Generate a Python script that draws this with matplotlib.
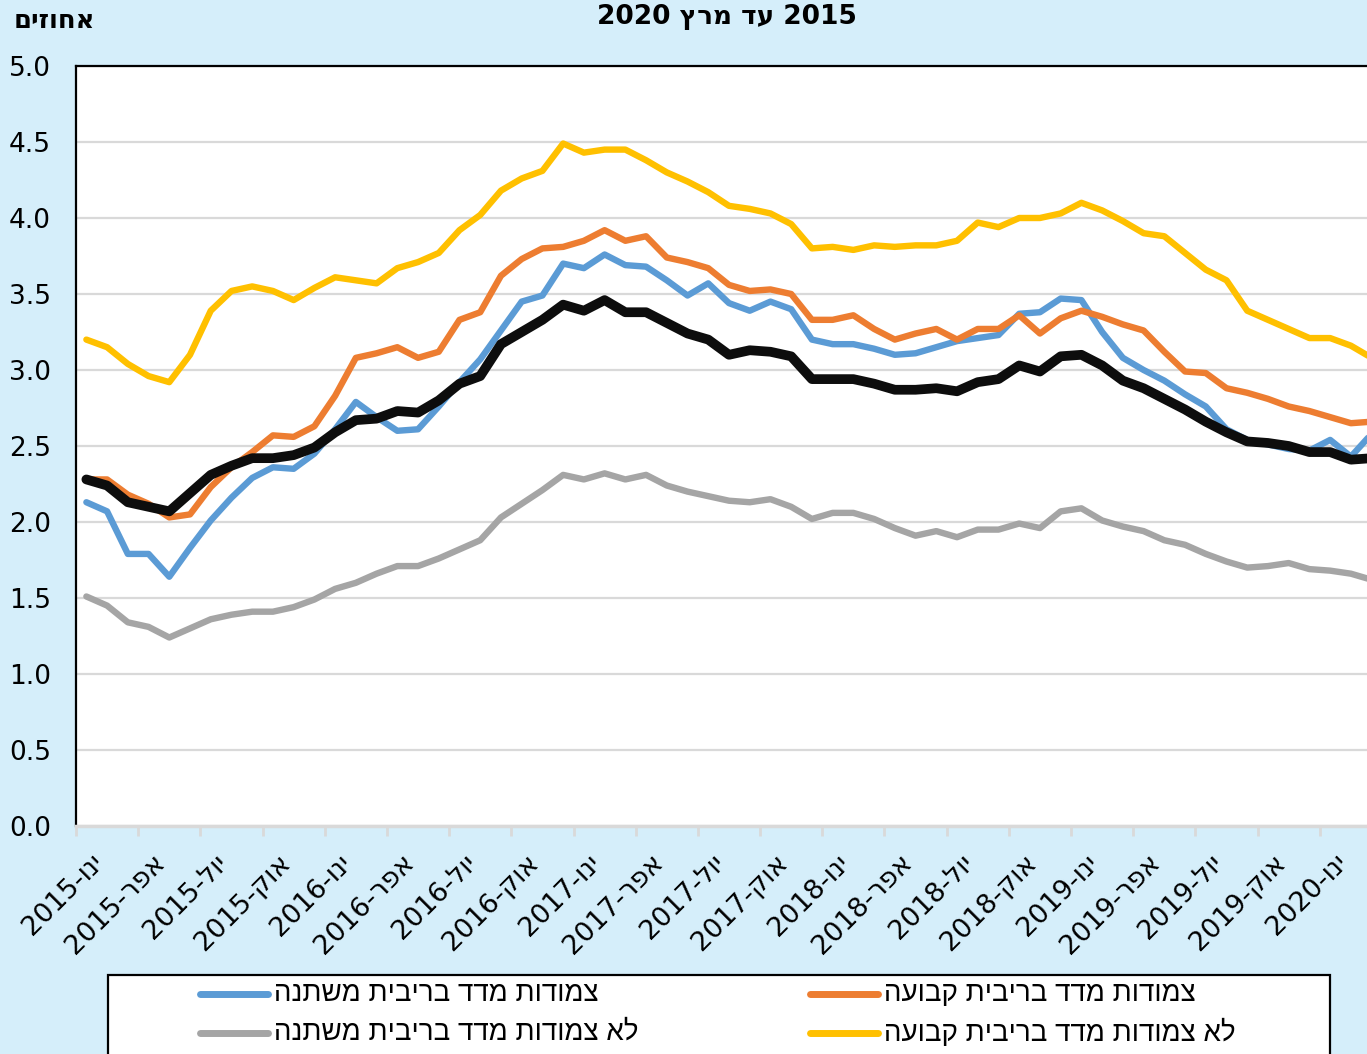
import re

import numpy as np
import matplotlib
matplotlib.use("Agg")
import matplotlib.pyplot as plt
from matplotlib.lines import Line2D
from matplotlib.patches import Rectangle
from matplotlib.transforms import ScaledTranslation

# ---------------------------------------------------------------------------
# Data (monthly, Jan 2015 - Mar 2020), percent
# ---------------------------------------------------------------------------

tick_labels = [
    "ינו-2015", "אפר-2015", "יול-2015", "אוק-2015",
    "ינו-2016", "אפר-2016", "יול-2016", "אוק-2016",
    "ינו-2017", "אפר-2017", "יול-2017", "אוק-2017",
    "ינו-2018", "אפר-2018", "יול-2018", "אוק-2018",
    "ינו-2019", "אפר-2019", "יול-2019", "אוק-2019",
    "ינו-2020",
]

cpi_variable = [
    2.13, 2.07, 1.79, 1.79, 1.64, 1.83, 2.01, 2.16, 2.29, 2.36, 2.35, 2.45, 2.61, 2.79, 2.69, 2.60,
    2.61, 2.76, 2.92, 3.07, 3.26, 3.45, 3.49, 3.70, 3.67, 3.76, 3.69, 3.68, 3.59, 3.49, 3.57, 3.44,
    3.39, 3.45, 3.40, 3.20, 3.17, 3.17, 3.14, 3.10, 3.11, 3.15, 3.19, 3.21, 3.23, 3.37, 3.38,
    3.47, 3.46, 3.25, 3.08, 3.00, 2.93, 2.84, 2.76, 2.61, 2.54, 2.51, 2.48, 2.47, 2.54, 2.43, 2.58,
]
cpi_fixed = [
    2.28, 2.28, 2.18, 2.12, 2.03, 2.05, 2.23, 2.36, 2.46, 2.57, 2.56, 2.63, 2.83, 3.08, 3.11, 3.15,
    3.08, 3.12, 3.33, 3.38, 3.62, 3.73, 3.80, 3.81, 3.85, 3.92, 3.85, 3.88, 3.74, 3.71, 3.67, 3.56,
    3.52, 3.53, 3.50, 3.33, 3.33, 3.36, 3.27, 3.20, 3.24, 3.27, 3.20, 3.27, 3.27, 3.36, 3.24,
    3.34, 3.39, 3.35, 3.30, 3.26, 3.12, 2.99, 2.98, 2.88, 2.85, 2.81, 2.76, 2.73, 2.69, 2.65, 2.66,
]
nominal_variable = [
    1.51, 1.45, 1.34, 1.31, 1.24, 1.30, 1.36, 1.39, 1.41, 1.41, 1.44, 1.49, 1.56, 1.60, 1.66, 1.71,
    1.71, 1.76, 1.82, 1.88, 2.03, 2.12, 2.21, 2.31, 2.28, 2.32, 2.28, 2.31, 2.24, 2.20, 2.17, 2.14,
    2.13, 2.15, 2.10, 2.02, 2.06, 2.06, 2.02, 1.96, 1.91, 1.94, 1.90, 1.95, 1.95, 1.99, 1.96,
    2.07, 2.09, 2.01, 1.97, 1.94, 1.88, 1.85, 1.79, 1.74, 1.70, 1.71, 1.73, 1.69, 1.68, 1.66, 1.62,
]
nominal_fixed = [
    3.20, 3.15, 3.04, 2.96, 2.92, 3.10, 3.39, 3.52, 3.55, 3.52, 3.46, 3.54, 3.61, 3.59, 3.57, 3.67,
    3.71, 3.77, 3.92, 4.02, 4.18, 4.26, 4.31, 4.49, 4.43, 4.45, 4.45, 4.38, 4.30, 4.24, 4.17, 4.08,
    4.06, 4.03, 3.96, 3.80, 3.81, 3.79, 3.82, 3.81, 3.82, 3.82, 3.85, 3.97, 3.94, 4.00, 4.00,
    4.03, 4.10, 4.05, 3.98, 3.90, 3.88, 3.77, 3.66, 3.59, 3.39, 3.33, 3.27, 3.21, 3.21, 3.16, 3.08,
]
total = [
    2.28, 2.24, 2.13, 2.10, 2.07, 2.19, 2.31, 2.37, 2.42, 2.42, 2.44, 2.49, 2.59, 2.67, 2.68, 2.73,
    2.72, 2.80, 2.91, 2.96, 3.17, 3.25, 3.33, 3.43, 3.39, 3.46, 3.38, 3.38, 3.31, 3.24, 3.20, 3.10,
    3.13, 3.12, 3.09, 2.94, 2.94, 2.94, 2.91, 2.87, 2.87, 2.88, 2.86, 2.92, 2.94, 3.03, 2.99,
    3.09, 3.10, 3.03, 2.93, 2.88, 2.81, 2.74, 2.66, 2.59, 2.53, 2.52, 2.50, 2.46, 2.46, 2.41, 2.42,
]

title_text = "2015 עד מרץ 2020"
unit_text = "אחוזים"
legend_labels = [
    "צמודות מדד בריבית משתנה",
    "לא צמודות מדד בריבית משתנה",
    "צמודות מדד בריבית קבועה",
    "לא צמודות מדד בריבית קבועה",
]

BLUE = "#5B9BD5"
ORANGE = "#ED7D31"
GRAY = "#A5A5A5"
YELLOW = "#FFC000"
BLACK = "#0D0D0D"
BG = "#D5EEFA"
GRID = "#D9D9D9"


def heb(s):
    """matplotlib has no bidi: flip the string, keep digit runs readable."""
    r = s[::-1]
    return re.sub(r"[0-9.]+", lambda m: m.group(0)[::-1], r)


# ---------------------------------------------------------------------------
# Figure
# ---------------------------------------------------------------------------

W, H = 1367, 1054
plt.rcParams["font.family"] = ["DejaVu Sans"]

fig = plt.figure(figsize=(W / 100, H / 100), dpi=100, facecolor=BG)

n = len(total)
x = np.arange(n)
left_px, right_px, top_px, bottom_px = 76, 76 + n * 20.73, 66, 826
ax = fig.add_axes([left_px / W, 1 - bottom_px / H,
                   (right_px - left_px) / W, (bottom_px - top_px) / H])
ax.set_facecolor("white")

lw = 4.6
for series, color in [(cpi_variable, BLUE), (cpi_fixed, ORANGE),
                      (nominal_variable, GRAY), (nominal_fixed, YELLOW)]:
    ax.plot(x, series, color=color, lw=lw,
            solid_joinstyle="round", solid_capstyle="round")
ax.plot(x, total, color=BLACK, lw=7, solid_joinstyle="round", solid_capstyle="round")

ax.set_xlim(-0.5, n - 0.5)
ax.set_ylim(0, 5)
yt = np.arange(0, 5.01, 0.5)
ax.set_yticks(yt)
ax.set_yticklabels([f"{v:.1f}" for v in yt])
ax.yaxis.grid(True, color=GRID, lw=1.6)
ax.set_axisbelow(True)
ax.tick_params(axis="y", length=0, pad=18, labelsize=19)

ax.set_xticks(np.arange(0, n, 3))
ax.set_xticklabels([heb(t) for t in tick_labels], rotation=45,
                   ha="right", va="top", rotation_mode="anchor")
ax.tick_params(axis="x", which="major", length=0, pad=17, labelsize=19.5)
shift = ScaledTranslation(4 / 100, 0, fig.dpi_scale_trans)
for lab in ax.get_xticklabels():
    lab.set_transform(lab.get_transform() + shift)
ax.set_xticks(np.arange(-0.5, n, 3), minor=True)
ax.tick_params(axis="x", which="minor", length=7, width=2, color=GRID)

ax.spines["right"].set_visible(False)
ax.spines["left"].set_color("black")
ax.spines["left"].set_linewidth(1.6)
ax.spines["top"].set_color("black")
ax.spines["top"].set_linewidth(1.6)
ax.spines["bottom"].set_color(GRID)
ax.spines["bottom"].set_linewidth(2.5)

fig.text(727 / W, 1 - 17 / H, heb(title_text), ha="center", va="center",
         fontsize=19, fontweight="bold")
fig.text(14 / W, 1 - 21 / H, heb(unit_text), ha="left", va="center",
         fontsize=18.5, fontweight="bold")

# legend drawn by hand so the box and columns sit where they do in the source
fig.add_artist(Rectangle((108 / W, -0.05), (1330 - 108) / W, 0.05 + 1 - 975 / H,
                         transform=fig.transFigure, facecolor="white",
                         edgecolor="black", lw=1.6))
entries = [
    (legend_labels[0], BLUE, 200, 994),
    (legend_labels[1], GRAY, 200, 1033),
    (legend_labels[2], ORANGE, 810, 994),
    (legend_labels[3], YELLOW, 810, 1033),
]
for label, color, x0, y0 in entries:
    yy = 1 - y0 / H
    fig.add_artist(Line2D([x0 / W, (x0 + 68) / W], [yy, yy], transform=fig.transFigure,
                          color=color, lw=5, solid_capstyle="round"))
    fig.text((x0 + 74) / W, yy, heb(label), ha="left", va="center", fontsize=20,
             family=["Liberation Sans", "DejaVu Sans"])

fig.savefig("out.png", dpi=100, facecolor=BG)
